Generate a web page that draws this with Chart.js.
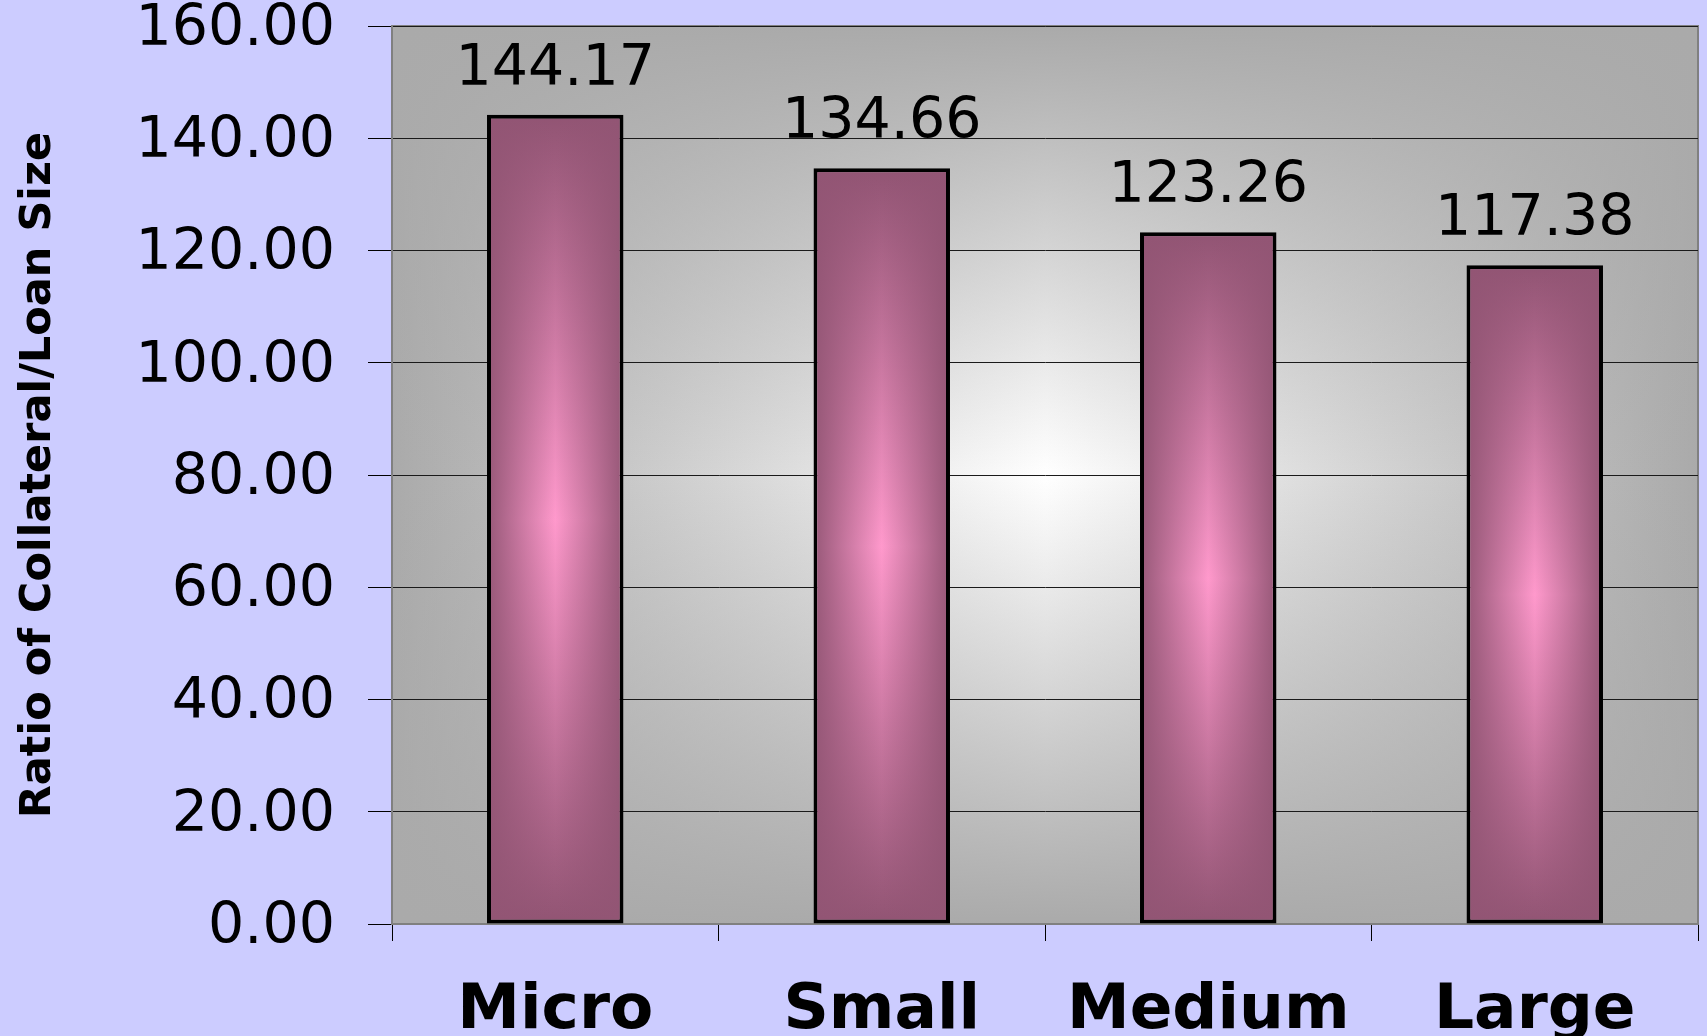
<!DOCTYPE html>
<html>
<head>
<meta charset="utf-8">
<script src="https://cdn.jsdelivr.net/npm/chart.js@4.4.1/dist/chart.umd.min.js"></script>
<style>
  html, body { margin: 0; padding: 0; background: #CCCCFF; }
  #wrap { width: 1707px; height: 1036px; position: relative; }
</style>
</head>
<body>
<div id="wrap"><canvas id="ratioChart"></canvas></div>
<script>
const categories = ['Micro', 'Small', 'Medium', 'Large'];
const ratioValues = [144.17, 134.66, 123.26, 117.38];
const yTicks = [0, 20, 40, 60, 80, 100, 120, 140, 160];

Chart.defaults.font.family = "'DejaVu Sans', sans-serif";
Chart.defaults.color = '#000';

// plot area: grey edges fading to white in the middle
const plotBackground = {
  id: 'plotBackground',
  beforeDraw(chart) {
    const { ctx, chartArea: a } = chart;
    const w = a.right - a.left, h = a.bottom - a.top;
    ctx.save();
    let g = ctx.createLinearGradient(a.left, 0, a.right, 0);
    g.addColorStop(0, '#aaaaaa');
    g.addColorStop(0.5, '#ffffff');
    g.addColorStop(1, '#aaaaaa');
    ctx.fillStyle = g;
    ctx.fillRect(a.left, a.top, w, h);
    g = ctx.createLinearGradient(0, a.top, 0, a.bottom);
    g.addColorStop(0, 'rgba(170,170,170,1)');
    g.addColorStop(0.5, 'rgba(170,170,170,0)');
    g.addColorStop(1, 'rgba(170,170,170,1)');
    ctx.fillStyle = g;
    ctx.fillRect(a.left, a.top, w, h);
    ctx.strokeStyle = '#808080';
    ctx.lineWidth = 2;
    ctx.strokeRect(a.left, a.top, w, h);
    ctx.restore();
  }
};

// side shading on the bars + value labels above them
const barExtras = {
  id: 'barExtras',
  afterDatasetsDraw(chart) {
    const { ctx } = chart;
    const meta = chart.getDatasetMeta(0);
    ctx.save();
    meta.data.forEach((bar, i) => {
      const bw = 4;
      const left = bar.x - bar.width / 2 + bw;
      const right = bar.x + bar.width / 2 - bw;
      const g = ctx.createLinearGradient(left, 0, right, 0);
      g.addColorStop(0, 'rgba(146,85,116,0.9)');
      g.addColorStop(0.5, 'rgba(146,85,116,0)');
      g.addColorStop(1, 'rgba(146,85,116,0.9)');
      ctx.fillStyle = g;
      ctx.fillRect(left, bar.y + bw, right - left, bar.base - bar.y - 2 * bw);

      ctx.fillStyle = '#000';
      ctx.font = "57px 'DejaVu Sans'";
      ctx.textAlign = 'center';
      ctx.textBaseline = 'alphabetic';
      ctx.fillText(ratioValues[i].toFixed(2), bar.x, bar.y - 30);
    });
    ctx.restore();
  }
};

function barFill(context) {
  const chart = context.chart;
  if (!chart.chartArea) return '#c77aa0';
  const y = chart.scales.y;
  const top = y.getPixelForValue(context.raw);
  const base = y.getPixelForValue(0);
  const g = chart.ctx.createLinearGradient(0, top, 0, base);
  g.addColorStop(0, '#915473');
  g.addColorStop(0.5, '#ff99cc');
  g.addColorStop(1, '#915473');
  return g;
}

new Chart(document.getElementById('ratioChart'), {
  type: 'bar',
  data: {
    labels: categories,
    datasets: [{
      data: ratioValues,
      backgroundColor: barFill,
      borderColor: '#000',
      borderWidth: 4,
      borderSkipped: false,
      barPercentage: 0.418,
      categoryPercentage: 1
    }]
  },
  options: {
    responsive: true,
    maintainAspectRatio: false,
    animation: false,
    layout: { padding: { left: 0, right: 9, top: 26, bottom: 0 } },
    plugins: {
      legend: { display: false },
      tooltip: { enabled: false }
    },
    scales: {
      x: {
        grid: { drawOnChartArea: false, tickLength: 17, color: '#000' },
        border: { color: '#808080', width: 2 },
        ticks: {
          font: { size: 63, weight: 'bold', lineHeight: 1 },
          padding: 39
        },
        afterFit(scale) { scale.height = 112; }
      },
      y: {
        min: 0,
        max: 160,
        afterBuildTicks(scale) { scale.ticks = yTicks.map(v => ({ value: v })); },
        grid: { color: '#1a1a1a', lineWidth: 1, tickLength: 24, tickColor: '#000' },
        border: { color: '#808080', width: 2 },
        ticks: {
          font: { size: 57, lineHeight: 1 },
          padding: 33,
          labelOffset: 4,
          callback: v => Number(v).toFixed(2)
        },
        title: {
          display: true,
          text: 'Ratio of Collateral/Loan Size',
          font: { size: 43, weight: 'bold' },
          padding: { top: 13, bottom: 0 }
        },
        afterFit(scale) {
          scale.width = 392;
          scale.paddingTop = 0;
          scale.paddingBottom = 0;
        }
      }
    }
  },
  plugins: [plotBackground, barExtras]
});
</script>
</body>
</html>
